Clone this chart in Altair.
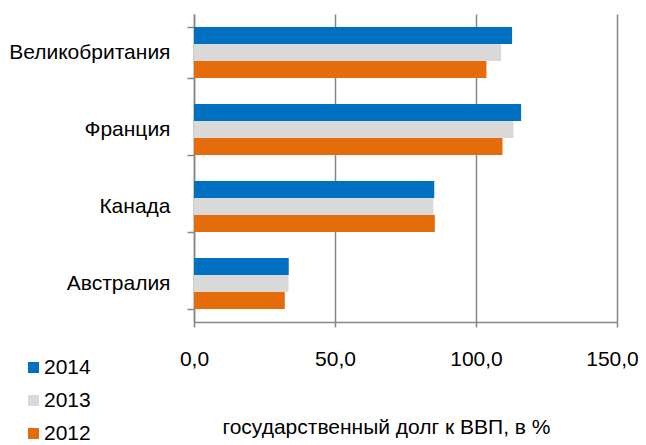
import altair as alt
import pandas as pd

countries = ["Великобритания", "Франция", "Канада", "Австралия"]
years = ["2014", "2013", "2012"]
v2014 = [112.8, 116.0, 85.2, 33.6]
v2013 = [108.9, 113.3, 84.9, 33.5]
v2012 = [103.7, 109.4, 85.4, 32.2]
colors = ["#0070C0", "#D9D9D9", "#E46C0A"]
x_ticks = [0, 50, 100, 150]

rows = []
for yr, vals in zip(years, [v2014, v2013, v2012]):
    for c, v in zip(countries, vals):
        rows.append({"country": c, "year": yr, "value": v})
df = pd.DataFrame(rows)

FONT = "Arial, Liberation Sans, sans-serif"
GRID = "#868686"
FS = 21

chart = alt.Chart(df).mark_bar().encode(
    y=alt.Y("country:N", sort=countries,
            scale=alt.Scale(paddingInner=0.337, paddingOuter=0.1685),
            axis=alt.Axis(title=None, tickBand="extent", domainColor=GRID,
                          domainWidth=1.5, tickColor=GRID, tickWidth=1.5,
                          tickSize=7, labelPadding=17, labelFontSize=FS,
                          labelColor="#000000", labelFont=FONT, grid=False)),
    yOffset=alt.YOffset("year:N", sort=years, scale=alt.Scale(paddingInner=0, paddingOuter=0)),
    x=alt.X("value:Q", scale=alt.Scale(domain=[0, 150], nice=False),
            axis=alt.Axis(title="государственный долг к ВВП, в %", values=x_ticks,
                          labelExpr="replace(format(datum.value, '.1f'), '.', ',')",
                          labelFlush=False,
                          labelOffset={"condition": {"test": "datum.value == 150", "value": -5}, "value": 0},
                          grid=True, gridColor=GRID, gridWidth=1.5,
                          domainColor=GRID, domainWidth=1.5, tickColor=GRID,
                          tickWidth=1.5, tickSize=5, labelPadding=21,
                          labelFontSize=FS, labelColor="#000000", labelFont=FONT,
                          titleFontSize=FS, titleFont=FONT, titleFontWeight="normal",
                          titleColor="#000000", titlePadding=47, titleX=192,
                          titleAlign="center")),
    color=alt.Color("year:N", sort=years,
                    scale=alt.Scale(domain=years, range=colors),
                    legend=alt.Legend(title=None, orient="none", legendX=-171,
                                      legendY=343, symbolType="square",
                                      symbolSize=121, symbolStrokeWidth=0,
                                      labelFontSize=FS, labelFont=FONT,
                                      labelColor="#000000", labelOffset=0,
                                      rowPadding=11, padding=0)),
).properties(
    width=423, height=308,
    autosize=alt.AutoSizeParams(type="none"),
    padding={"left": 186, "top": 6, "right": 21, "bottom": 130},
).configure_view(stroke="transparent")

chart.save("out.html", embed_options={"renderer": "svg", "actions": False})
